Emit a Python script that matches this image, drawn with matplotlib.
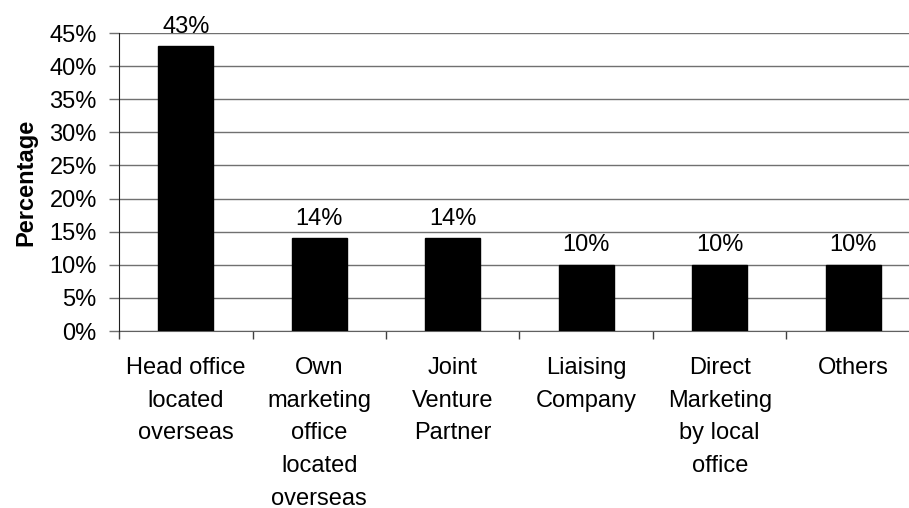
import matplotlib
matplotlib.use("Agg")
import matplotlib.pyplot as plt
import numpy as np

plt.rcParams['font.family'] = ['Liberation Sans', 'DejaVu Sans']

# channel categories and their share (%)
categories = [
    "Head office\nlocated\noverseas",
    "Own\nmarketing\noffice\nlocated\noverseas",
    "Joint\nVenture\nPartner",
    "Liaising\nCompany",
    "Direct\nMarketing\nby local\noffice",
    "Others",
]
values = [43, 14, 14, 10, 10, 10]
value_labels = ["43%", "14%", "14%", "10%", "10%", "10%"]
y_ticks = [0, 5, 10, 15, 20, 25, 30, 35, 40, 45]

FS = 17

fig = plt.figure(figsize=(9.09, 5.08), dpi=100)
ax = fig.add_axes([0.131, 0.3484, 0.881, 0.5866])

x = np.arange(len(categories))
ax.bar(x, values, width=0.41, color="black", edgecolor="black", zorder=3)

for xi, v, lab in zip(x, values, value_labels):
    ax.annotate(lab, (xi, v), xytext=(0, 14), textcoords="offset points",
                ha="center", va="center", fontsize=FS, annotation_clip=False)

ax.set_xlim(-0.5, len(categories) - 0.5)
ax.set_ylim(0, 45)
ax.set_yticks(y_ticks)
ax.set_yticklabels([f"{t}%" for t in y_ticks], fontsize=FS)
ax.yaxis.grid(True, color="#707070", linewidth=1, zorder=0)

# category labels at bar centres, tick marks between categories
ax.set_xticks(x)
ax.set_xticklabels(categories, fontsize=FS, linespacing=1.62)
ax.set_xticks(np.arange(len(categories) + 1) - 0.5, minor=True)
ax.tick_params(axis="x", which="major", length=0, pad=19)
ax.tick_params(axis="x", which="minor", length=6, color="#404040", width=1, direction="out")
ax.tick_params(axis="y", length=7, color="#707070", width=1, pad=9)

ax.set_ylabel("Percentage", fontsize=FS, fontweight="bold", labelpad=9)

for side in ["top", "right"]:
    ax.spines[side].set_visible(False)
ax.spines["left"].set_color("#202020")
ax.spines["bottom"].set_color("#606060")
ax.spines["left"].set_zorder(4)

fig.savefig("out.png", dpi=100)
